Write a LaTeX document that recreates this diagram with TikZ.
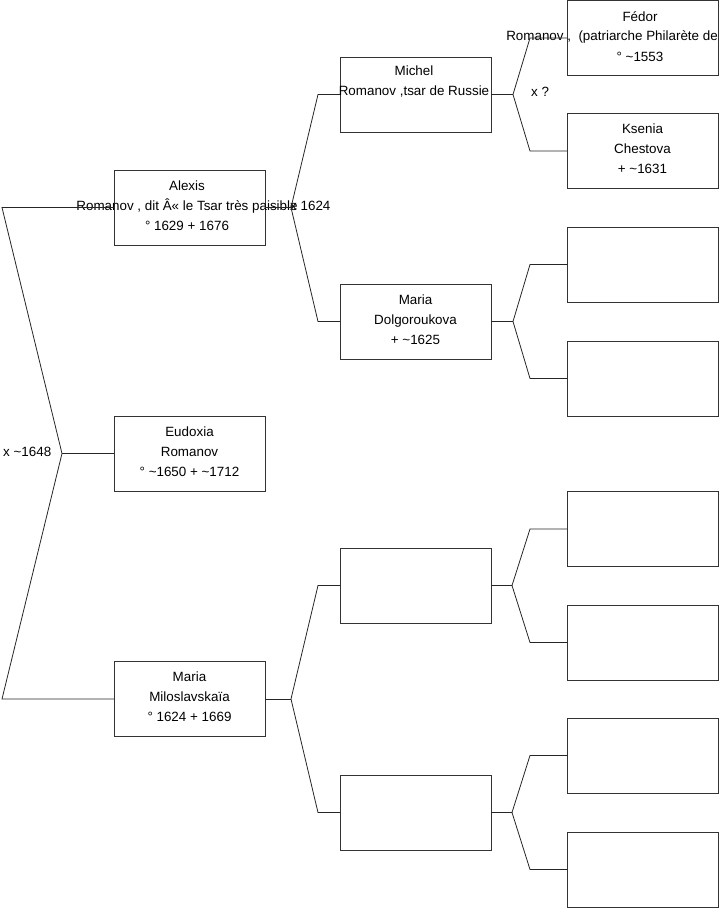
\documentclass[tikz,border=0pt]{standalone}
\usepackage{fontspec}
\setmainfont{Liberation Sans}
\begin{document}
\begin{tikzpicture}[x=1pt,y=-1pt,
  person/.style={draw=black!80,line width=0.9pt,minimum width=151pt,minimum height=75pt,inner sep=0pt,outer sep=0pt},
  txt/.style={align=center,inner sep=0pt,font=\fontsize{13.4}{20}\selectfont},
  lbl/.style={anchor=west,inner sep=0pt,font=\fontsize{13.4}{20}\selectfont},
  link/.style={draw=black!85,line width=0.8pt}]
\useasboundingbox (0,0) rectangle (719,908);
% boxes
\node[person] (alexis) at (189.5,207.5) {};
\node[person] (eudoxia) at (189.5,453.5) {};
\node[person] (mariaM) at (189.5,699) {};
\node[person] (michel) at (415.5,94.5) {};
\node[person] (mariaD) at (415.5,321.5) {};
\node[person] (e1) at (415.5,585.5) {};
\node[person] (e2) at (415.5,812.5) {};
\node[person] (fedor) at (642.5,38) {};
\node[person] (ksenia) at (642.5,151) {};
\node[person] (r1) at (642.5,264.5) {};
\node[person] (r2) at (642.5,378.5) {};
\node[person] (r3) at (642.5,529) {};
\node[person] (r4) at (642.5,642.5) {};
\node[person] (r5) at (642.5,755.5) {};
\node[person] (r6) at (642.5,869.5) {};
% texts
\node[txt] (tAlexis) at (187,206) {Alexis\\Romanov , dit Â« le Tsar très paisible\\° 1629 + 1676};
\node[txt] (tEudoxia) at (189.5,452) {Eudoxia\\Romanov\\° \textasciitilde1650 + \textasciitilde1712};
\node[txt] (tMariaM) at (189.5,697) {Maria\\Miloslavskaïa\\° 1624 + 1669};
\node[txt] (tMichel) at (414,94) {Michel\\Romanov ,tsar de Russie\\\strut};
\node[txt] (tMariaD) at (415.5,320) {Maria\\Dolgoroukova\\+ \textasciitilde1625};
\node[txt] (tFedor) at (640,37) {Fédor\\\strut\\° \textasciitilde1553};
\node[txt,anchor=east] (tFedor2) at (718,37) {Romanov ,\ \ (patriarche Philarète de};
\node[txt] (tKsenia) at (642.5,149) {Ksenia\\Chestova\\+ \textasciitilde1631};
% marriage labels
\node[lbl] (m1) at (3,452) {x \textasciitilde1648};
\node[lbl] (m2) at (290,206) {x 1624};
\node[lbl] (m3) at (531,92) {x ?};
% fork coordinates
\coordinate (L0) at (2,207.5);
\coordinate (Lm) at (62,453.5);
\coordinate (L1) at (2,699);
\coordinate (A0) at (291,207.5);
\coordinate (A1) at (318,94.5);
\coordinate (A2) at (318,321.5);
\coordinate (M0) at (291,699);
\coordinate (M1) at (318,585.5);
\coordinate (M2) at (318,812.5);
\coordinate (B0) at (513,94.5);
\coordinate (B1) at (530,38);
\coordinate (B2) at (530,151);
\coordinate (C0) at (513,321.5);
\coordinate (C1) at (530,264.5);
\coordinate (C2) at (530,378.5);
\coordinate (D0) at (512,585.5);
\coordinate (D1) at (530,529);
\coordinate (D2) at (530,642.5);
\coordinate (E0) at (512,812.5);
\coordinate (E1) at (530,755.5);
\coordinate (E2) at (530,869.5);
% connectors
\draw[link] (alexis.west) -- (L0) -- (Lm) -- (L1) -- (mariaM.west);
\draw[link] (Lm) -- (eudoxia.west);
\draw[link] (alexis.east) -- (A0);
\draw[link] (michel.west) -- (A1) -- (A0) -- (A2) -- (mariaD.west);
\draw[link] (mariaM.east) -- (M0);
\draw[link] (e1.west) -- (M1) -- (M0) -- (M2) -- (e2.west);
\draw[link] (michel.east) -- (B0);
\draw[link] (fedor.west) -- (B1) -- (B0) -- (B2) -- (ksenia.west);
\draw[link] (mariaD.east) -- (C0);
\draw[link] (r1.west) -- (C1) -- (C0) -- (C2) -- (r2.west);
\draw[link] (e1.east) -- (D0);
\draw[link] (r3.west) -- (D1) -- (D0) -- (D2) -- (r4.west);
\draw[link] (e2.east) -- (E0);
\draw[link] (r5.west) -- (E1) -- (E0) -- (E2) -- (r6.west);
\end{tikzpicture}
\end{document}
